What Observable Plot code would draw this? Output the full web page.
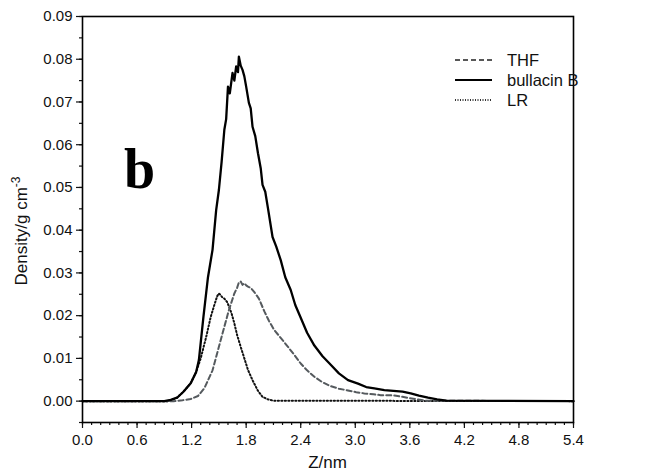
<!DOCTYPE html>
<html>
<head>
<meta charset="utf-8">
<script src="https://cdn.jsdelivr.net/npm/d3@7"></script>
<script src="https://cdn.jsdelivr.net/npm/@observablehq/plot@0.6"></script>
<style>
  html, body { margin: 0; padding: 0; background: #fff; }
  #chart { width: 651px; height: 475px; }
</style>
</head>
<body>
<div id="chart"></div>
<script>
// ---- data ----
const seriesNames = ["THF", "bullacin B", "LR"];

const thfZ = [0, 1.0, 1.10, 1.19, 1.27, 1.34, 1.43, 1.50, 1.56, 1.61, 1.67, 1.70, 1.72, 1.74, 1.76, 1.78, 1.80, 1.82, 1.85, 1.89, 1.94, 2.00, 2.05, 2.11, 2.18, 2.26, 2.33, 2.40, 2.47, 2.55, 2.64, 2.73, 2.82, 2.92, 3.01, 3.10, 3.20, 3.28, 3.36, 3.43, 3.52, 3.60, 3.69, 3.78, 5.4];
const thfD = [0, 0, 0.0002, 0.0005, 0.0012, 0.0030, 0.0072, 0.0127, 0.0174, 0.0213, 0.0252, 0.0265, 0.0278, 0.0280, 0.0272, 0.0276, 0.0271, 0.0268, 0.0265, 0.0255, 0.0240, 0.0210, 0.0188, 0.0166, 0.0148, 0.0127, 0.0108, 0.0088, 0.0072, 0.0057, 0.0044, 0.0035, 0.0029, 0.0025, 0.0021, 0.0018, 0.0016, 0.0014, 0.0014, 0.0013, 0.0010, 0.0007, 0.0004, 0.0001, 0];

const bullZ = [0, 0.9, 0.97, 1.04, 1.11, 1.19, 1.25, 1.28, 1.33, 1.38, 1.43, 1.47, 1.50, 1.53, 1.56, 1.58, 1.60, 1.62, 1.65, 1.67, 1.69, 1.71, 1.72, 1.74, 1.76, 1.78, 1.80, 1.83, 1.85, 1.87, 1.90, 1.93, 1.96, 1.98, 2.01, 2.04, 2.09, 2.13, 2.18, 2.23, 2.29, 2.34, 2.40, 2.47, 2.55, 2.64, 2.73, 2.82, 2.92, 3.03, 3.12, 3.21, 3.32, 3.42, 3.52, 3.61, 3.70, 3.80, 3.90, 4.0, 5.4];
const bullD = [0, 0, 0.0003, 0.0008, 0.0022, 0.0042, 0.0068, 0.0096, 0.0197, 0.0290, 0.0354, 0.0447, 0.0494, 0.0560, 0.0635, 0.0660, 0.0736, 0.0720, 0.0768, 0.0750, 0.0783, 0.0770, 0.0806, 0.0785, 0.0775, 0.0760, 0.0736, 0.0698, 0.0685, 0.0642, 0.0620, 0.0580, 0.0545, 0.0506, 0.0490, 0.0451, 0.0384, 0.0362, 0.0330, 0.0290, 0.0260, 0.0225, 0.0195, 0.0160, 0.0130, 0.0105, 0.0085, 0.0065, 0.0049, 0.0041, 0.0033, 0.0030, 0.0026, 0.0024, 0.0022, 0.0018, 0.0013, 0.0008, 0.0004, 0.0001, 0];

const lrZ = [0, 0.95, 1.04, 1.11, 1.19, 1.25, 1.30, 1.36, 1.41, 1.45, 1.48, 1.50, 1.52, 1.54, 1.56, 1.59, 1.61, 1.64, 1.67, 1.70, 1.74, 1.78, 1.82, 1.87, 1.93, 1.98, 2.04, 2.10, 5.4];
const lrD = [0, 0, 0.0008, 0.0022, 0.0042, 0.0068, 0.0100, 0.0150, 0.0197, 0.0225, 0.0245, 0.0252, 0.0248, 0.0242, 0.0240, 0.0232, 0.0222, 0.0205, 0.0182, 0.0155, 0.0127, 0.0100, 0.0073, 0.0049, 0.0024, 0.0010, 0.0004, 0.0001, 0];

const xTickValues = [0, 0.6, 1.2, 1.8, 2.4, 3.0, 3.6, 4.2, 4.8, 5.4];
const yTickValues = [0, 0.01, 0.02, 0.03, 0.04, 0.05, 0.06, 0.07, 0.08, 0.09];

// ---- build tables ----
const toRows = (zs, ds, name) => zs.map((z, i) => ({z, d: ds[i], series: name}));
const thf = toRows(thfZ, thfD, seriesNames[0]);
const bull = toRows(bullZ, bullD, seriesNames[1]);
const lr = toRows(lrZ, lrD, seriesNames[2]);

const xMinor = d3.range(0, 5.4001, 0.1).map(v => +v.toFixed(2));
const yMinor = d3.range(-0.005, 0.0901, 0.005).map(v => +v.toFixed(4));

const font = "'Liberation Sans', Arial, Helvetica, sans-serif";

const W = 651, H = 475;
const mL = 82, mR = 78, mT = 16, mB = 53;

const styles = {
  THF: {stroke: "#555a5e", width: 2, dash: "5,3"},
  bull: {stroke: "#000", width: 2.3, dash: null},
  LR: {stroke: "#111", width: 2, dash: "1.2,2.3"}
};

const plot = Plot.plot({
  width: W,
  height: H,
  marginLeft: mL,
  marginRight: mR,
  marginTop: mT,
  marginBottom: mB,
  style: {fontFamily: font, fontSize: "15px", color: "#111", background: "#fff"},
  x: {domain: [0, 5.4]},
  y: {domain: [-0.005, 0.09]},
  marks: [
    Plot.axisX({ticks: xMinor, tickSize: 3, tickFormat: () => "", label: null, strokeWidth: 1.2}),
    Plot.axisX({ticks: xTickValues, tickSize: 6, tickPadding: 6, tickFormat: d3.format(".1f"), label: null, fontSize: 15, strokeWidth: 1.2}),
    Plot.axisY({ticks: yMinor, tickSize: 3, tickFormat: () => "", label: null, strokeWidth: 1.2}),
    Plot.axisY({ticks: yTickValues, tickSize: 6, tickPadding: 4, tickFormat: d3.format(".2f"), label: null, fontSize: 15, strokeWidth: 1.2}),
    Plot.line(lr, {x: "z", y: "d", stroke: styles.LR.stroke, strokeWidth: styles.LR.width, strokeDasharray: styles.LR.dash}),
    Plot.line(thf, {x: "z", y: "d", stroke: styles.THF.stroke, strokeWidth: styles.THF.width, strokeDasharray: styles.THF.dash}),
    Plot.line(bull, {x: "z", y: "d", stroke: styles.bull.stroke, strokeWidth: styles.bull.width}),
    Plot.frame({stroke: "#000", strokeWidth: 1.6})
  ]
});

document.getElementById("chart").appendChild(plot);

// ---- annotations: axis titles, panel letter, legend ----
const svg = d3.select(plot);

svg.append("text")
  .attr("x", mL + (W - mL - mR) / 2)
  .attr("y", 468)
  .attr("text-anchor", "middle")
  .style("font-family", font)
  .style("font-size", "17px")
  .attr("fill", "#111")
  .text("Z/nm");

const yl = svg.append("text")
  .attr("transform", `translate(27, ${(mT + (H - mB)) / 2 + 12}) rotate(-90)`)
  .attr("text-anchor", "middle")
  .style("font-family", font)
  .style("font-size", "17px")
  .attr("fill", "#111");
yl.append("tspan").text("Density/g cm");
yl.append("tspan").attr("dy", "-7").style("font-size", "12px").text("-3");

svg.append("text")
  .attr("x", 124)
  .attr("y", 188)
  .attr("text-anchor", "start")
  .style("font-family", "'Liberation Serif', 'Times New Roman', serif")
  .style("font-weight", "bold")
  .style("font-size", "56px")
  .attr("fill", "#000")
  .text("b");

const legendStyles = [
  {name: seriesNames[0], stroke: "#222", dash: "5,3", width: 1.6},
  {name: seriesNames[1], stroke: "#000", dash: null, width: 2.2},
  {name: seriesNames[2], stroke: "#333", dash: "1,1.5", width: 1.8}
];
legendStyles.forEach((s, i) => {
  const y = 60 + i * 20;
  const l = svg.append("line")
    .attr("x1", 455).attr("x2", 492)
    .attr("y1", y).attr("y2", y)
    .attr("stroke", s.stroke)
    .attr("stroke-width", s.width);
  if (s.dash) l.attr("stroke-dasharray", s.dash);
  svg.append("text")
    .attr("x", 507).attr("y", y)
    .attr("dy", "0.36em")
    .attr("text-anchor", "start")
    .style("font-family", font)
    .style("font-size", "16.5px")
    .attr("fill", "#111")
    .text(s.name);
});
</script>
</body>
</html>
